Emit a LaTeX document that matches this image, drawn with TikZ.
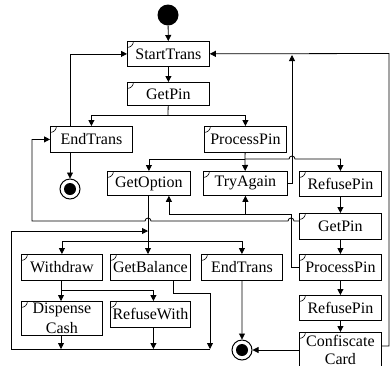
\documentclass[tikz,border=0pt]{standalone}
\usepackage{fontspec}
\setmainfont{Liberation Serif}
\usetikzlibrary{arrows.meta}
\tikzset{
  act/.style={draw, anchor=north west, inner sep=0pt, minimum width=82pt, minimum height=25pt, align=center,
    font=\fontsize{16}{20}\selectfont,
    path picture={\draw[line width=0.6pt] ([xshift=6pt]path picture bounding box.north west) arc[start angle=0,end angle=-90,radius=6pt];}},
  initial/.style={circle, fill=black, minimum size=21pt, inner sep=0pt},
  final/.style={circle, draw, line width=1pt, minimum size=20pt, inner sep=0pt,
    path picture={\fill (path picture bounding box.center) circle (6pt);}}
}
\begin{document}
\begin{tikzpicture}[x=1pt, y=-1pt, line width=0.8pt, >={Triangle[length=6pt,width=6pt]}]
\useasboundingbox (0,0) rectangle (390,365);
\clip (0,0) rectangle (390,365);
\node[initial] (init) at (168,15) {};
\node[act] (start) at (127,41) {StartTrans};
\node[act, minimum height=23pt] (getpinA) at (127,82) {GetPin};
\node[act, minimum height=26pt] (endtransA) at (50,126) {EndTrans};
\node[act, minimum height=26pt] (procpinA) at (204,126) {ProcessPin};
\node[final] (finA) at (70,189) {};
\node[act, minimum width=83pt, minimum height=24pt] (getoption) at (107,171) {GetOption};
\node[act, minimum width=84pt, minimum height=24pt] (tryagain) at (203,171) {TryAgain};
\node[act] (refpinA) at (299,171) {RefusePin};
\node[act, minimum height=26pt] (getpinB) at (299,213) {GetPin};
\node[act, minimum height=26pt] (procpinB) at (299,254) {ProcessPin};
\node[act] (refpinB) at (299,295) {RefusePin};
\node[act, minimum height=35pt, font=\fontsize{16}{17.5}\selectfont] (confisc) at (299,332) {Confiscate\\Card};
\node[act, minimum width=81pt, minimum height=26pt] (withdraw) at (21,254) {Withdraw};
\node[act, minimum width=80pt, minimum height=26pt] (getbal) at (110,254) {GetBalance};
\node[act, minimum width=81pt, minimum height=26pt] (endtransB) at (201,254) {EndTrans};
\node[act, minimum width=81pt, minimum height=34pt] (dispense) at (21,301) {Dispense\\Cash};
\node[act, minimum width=80pt, minimum height=26pt] (refwith) at (110,301) {RefuseWith};
\node[final] (finB) at (242,350) {};
\coordinate (forkA) at (168,115);
\coordinate (forkB) at (245,159);
\coordinate (railT) at (292,55);
\coordinate (railR) at (389,53.5);
\coordinate (forkC) at (291,214);
\coordinate (hopG) at (148,221);
\coordinate (bendE) at (32,221);
\coordinate (forkD) at (148,241);
\coordinate (loopin) at (148,231);
\coordinate (forkE) at (61,290);
\coordinate (mergeR) at (210,349);
\coordinate (mergeL) at (11,349);
\draw[->] (init) -- (start);
\draw[->] (start) -- (getpinA);
\draw (getpinA) -- (forkA);
\draw[->] (forkA) -| (endtransA);
\draw[->] (forkA) -| (procpinA);
\draw[->] (endtransA.south -| finA) -- (finA);
\draw[->] (endtransA.north -| finA) |- (start);
\draw (procpinA) -- (forkB);
\draw[->] (forkB) -| (getoption);
\draw[->] (forkB) -- (tryagain);
\draw[->] (forkB) -- ++(44,0) arc[start angle=180,end angle=0,radius=3pt] -| (refpinA);
\draw[->] (tryagain) -| (railT);
\draw[->] ([yshift=-14pt]confisc.north east) -| (railR) -- (start);
\draw[->] (refpinA) -- (getpinB);
\draw[->] (getpinB) -- (procpinB);
\draw[->] (procpinB) -- (refpinB);
\draw[->] (refpinB) -- (confisc);
\draw (procpinB) -| (forkC);
\draw[->] (forkC) -| ([xshift=20pt]getoption.south);
\draw[->] (forkC -| tryagain) -- (tryagain);
\draw[->] ([yshift=-8pt]getpinB.north west) -- ++(-5,0) arc[start angle=0,end angle=180,radius=3pt]
  -- ([xshift=3pt]hopG) arc[start angle=0,end angle=180,radius=3pt] -- (bendE) |- (endtransA);
\draw (getoption.south -| forkD) -- (forkD);
\draw[->] (forkD) -- (forkD |- getbal.north);
\draw[->] (forkD) -| (withdraw);
\draw[->] (forkD) -| (endtransB);
\draw (withdraw.south -| forkE) -- (forkE);
\draw[->] (forkE) -- (forkE |- dispense.north);
\draw[->] (forkE) -| ([xshift=3pt]refwith.north);
\draw[->] (dispense.south -| forkE) -- (forkE |- mergeR);
\draw[->] ([xshift=3pt]refwith.south) -- ([xshift=3pt]refwith.south |- mergeR);
\draw[->] ([xshift=23pt]getbal.south) -- ++(0,13) -| (mergeR);
\draw[->] (mergeR) -- (mergeL) |- (loopin);
\draw[->] (endtransB) -- (finB);
\draw[->] (confisc.west |- finB) -- (finB);
\end{tikzpicture}
\end{document}
